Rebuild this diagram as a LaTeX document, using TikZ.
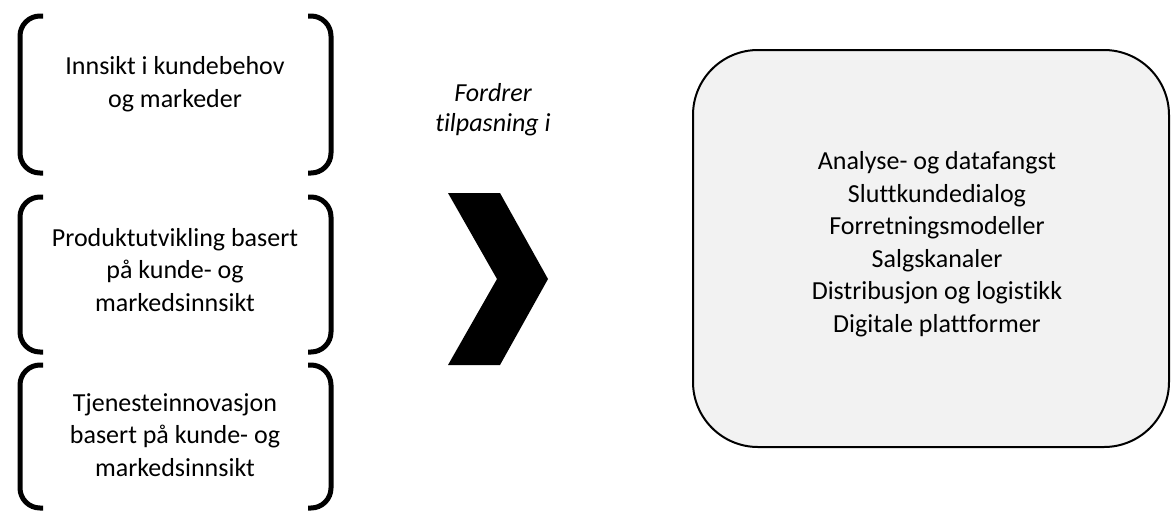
\documentclass[tikz,border=0pt]{standalone}
\usepackage{fontspec}
\setmainfont{Carlito}[Ligatures={NoCommon}]
\usepackage{tikz}
\usepackage{xcolor}
\usetikzlibrary{positioning, calc}
\definecolor{cPanel} {HTML}{F2F2F2}
\definecolor{cInk}   {HTML}{000000}

\tikzset{
  bracketline/.style={draw=cInk, line width=5pt, rounded corners=20pt},
  bodytext/.style={font=\fontsize{26}{32.5}\selectfont, align=center, inner sep=0pt},
  panelbox/.style={draw=cInk, fill=cPanel, line width=2pt, rounded corners=65pt},
}

% one pair of brackets between a top and a bottom edge
\newcommand{\bracketpair}[2]{%
  \draw[bracketline] (43,#1) -- (20,#1) -- (20,#2) -- (43,#2);
  \draw[bracketline] (308,#1) -- (331,#1) -- (331,#2) -- (308,#2);
}

\begin{document}
\begin{tikzpicture}[x=1pt, y=-1pt]
        \useasboundingbox (0,0) rectangle (1171,512);

        % left column
        \bracketpair{16}{173}
        \bracketpair{197}{352}
        \bracketpair{365}{508}
        \node[bodytext] (innsikt) at (175,84)
              {Innsikt i kundebehov\\og markeder};
        \node[bodytext] (produkt) at (175,270)
              {Produktutvikling basert\\på kunde- og\\markedsinnsikt};
        \node[bodytext] (tjeneste) at (175,435)
              {Tjenesteinnovasjon\\basert på kunde- og\\markedsinnsikt};

        % chevron and its caption
        \fill[cInk] (448,193) -- (500,193) -- (548,279) -- (500,365)
              -- (448,365) -- (497,279) -- cycle;
        \node[bodytext, font=\fontsize{26}{30}\selectfont\itshape] (fordrer) at (493,110)
              {Fordrer\\tilpasning i};

        % right panel
        \draw[panelbox] (693,50) rectangle (1169,447);
        \node[bodytext] (omraader) at (937,244)
              {Analyse- og datafangst\\Sluttkundedialog\\Forretningsmodeller\\%
               Salgskanaler\\Distribusjon og logistikk\\Digitale plattformer};
      \end{tikzpicture}
\end{document}
